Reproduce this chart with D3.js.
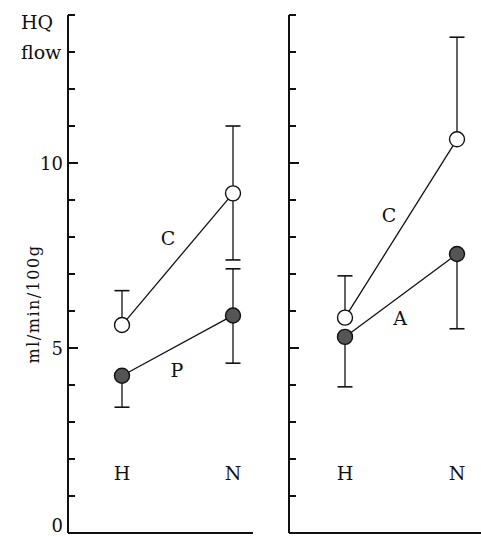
<!DOCTYPE html>
<html>
<head>
<meta charset="utf-8">
<script src="https://cdn.jsdelivr.net/npm/d3@7"></script>
<style>
  body { margin: 0; background: #fff; }
  text { font-family: "DejaVu Serif", "Liberation Serif", serif; fill: #111; }
</style>
</head>
<body>
<svg width="481" height="537"></svg>
<script>
// groups on the x axis
var groups = ["H", "N"];

// left panel: C (open) and P (filled)
var leftC = [5.62, 9.18];
var leftCUp = [6.55, 11.0];
var leftCDown = [null, 7.38];
var leftP = [4.25, 5.88];
var leftPUp = [null, 7.14];
var leftPDown = [3.40, 4.59];

// right panel: C (open) and A (filled)
var rightC = [5.82, 10.64];
var rightCUp = [6.95, 13.4];
var rightCDown = [null, null];
var rightA = [5.30, 7.54];
var rightAUp = [null, null];
var rightADown = [3.95, 5.52];

var yTicks = d3.range(0, 15);
var yLabels = [0, 5, 10];

var svg = d3.select("svg");
var top_ = 15, bottom = 533;

var y = d3.scaleLinear().domain([0, 14]).range([bottom, top_]);

function panel(x0, x1, xH, xN, series, labels) {
  var g = svg.append("g");
  var x = d3.scalePoint().domain(groups).range([xH, xN]);

  // y axis line with inward ticks
  g.append("line").attr("x1", x0).attr("x2", x0).attr("y1", y(14)).attr("y2", y(0))
    .attr("stroke", "#111").attr("stroke-width", 2);
  g.selectAll(".tk").data(yTicks).enter().append("line")
    .attr("x1", x0).attr("x2", function(d) { return x0 + (d % 5 == 0 && d > 0 ? 10 : 7); })
    .attr("y1", function(d) { return y(d); }).attr("y2", function(d) { return y(d); })
    .attr("stroke", "#111").attr("stroke-width", 2);
  // x axis line
  g.append("line").attr("x1", x0).attr("x2", x1).attr("y1", y(0)).attr("y2", y(0))
    .attr("stroke", "#111").attr("stroke-width", 2);

  // group labels
  g.selectAll(".gl").data(groups).enter().append("text")
    .attr("x", function(d) { return x(d); }).attr("y", 480)
    .attr("text-anchor", "middle").attr("font-size", 19)
    .text(function(d) { return d; });

  series.forEach(function(s) {
    var line = d3.line().x(function(d, i) { return x(groups[i]); }).y(function(d) { return y(d); });
    g.append("path").attr("d", line(s.values)).attr("fill", "none")
      .attr("stroke", "#111").attr("stroke-width", 1.3);
    // error bars
    s.values.forEach(function(v, i) {
      var cx = x(groups[i]);
      [s.up[i], s.down[i]].forEach(function(e) {
        if (e == null) return;
        g.append("line").attr("x1", cx).attr("x2", cx).attr("y1", y(v)).attr("y2", y(e))
          .attr("stroke", "#111").attr("stroke-width", 1.3);
        g.append("line").attr("x1", cx - 7.5).attr("x2", cx + 7.5).attr("y1", y(e)).attr("y2", y(e))
          .attr("stroke", "#111").attr("stroke-width", 1.6);
      });
    });
  });
  series.forEach(function(s) {
    g.selectAll(null).data(s.values).enter().append("circle")
      .attr("cx", function(d, i) { return x(groups[i]); })
      .attr("cy", function(d) { return y(d); })
      .attr("r", 7.5)
      .attr("fill", s.filled ? "#555" : "#fff")
      .attr("stroke", "#111").attr("stroke-width", 1.4);
  });

  labels.forEach(function(l) {
    g.append("text").attr("x", l[1]).attr("y", l[2]).attr("text-anchor", "middle")
      .attr("font-size", 19).text(l[0]);
  });
}

panel(68, 253, 122, 233,
  [{values: leftC, up: leftCUp, down: leftCDown, filled: false},
   {values: leftP, up: leftPUp, down: leftPDown, filled: true}],
  [["C", 168, 245], ["P", 177, 377]]);

panel(289, 481, 345, 457,
  [{values: rightC, up: rightCUp, down: rightCDown, filled: false},
   {values: rightA, up: rightAUp, down: rightADown, filled: true}],
  [["C", 389, 222], ["A", 400, 325]]);

// y tick labels on left panel
svg.selectAll(".yl").data(yLabels).enter().append("text")
  .attr("x", 63).attr("y", function(d) { return Math.min(y(d) + 7, 532); })
  .attr("text-anchor", "end").attr("font-size", 18)
  .text(function(d) { return d; });

svg.append("text").attr("x", 21).attr("y", 29).attr("font-size", 19).text("HQ");
svg.append("text").attr("x", 21).attr("y", 59).attr("font-size", 19).text("flow");
svg.append("text").attr("transform", "translate(39,304) rotate(-90)")
  .attr("text-anchor", "middle").attr("font-size", 16)
  .attr("letter-spacing", 1.5).text("ml/min/100g");
</script>
</body>
</html>
